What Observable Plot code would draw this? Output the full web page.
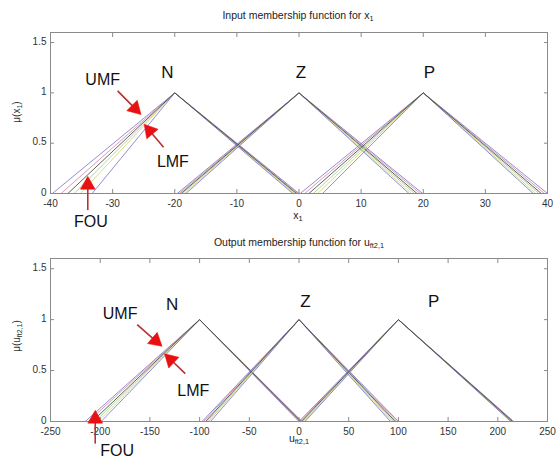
<!DOCTYPE html>
<html><head><meta charset="utf-8">
<script src="https://cdn.jsdelivr.net/npm/d3@7"></script>
<script src="https://cdn.jsdelivr.net/npm/@observablehq/plot@0.6"></script>
<style>
body{margin:0;background:#fff;font-family:"Liberation Sans",Arial,sans-serif;}
#wrap{position:relative;width:557px;height:464px;overflow:hidden;}
.panel{position:absolute;left:0;}
.lab{position:absolute;font-size:10.5px;color:#222;white-space:nowrap;transform:translate(-50%,-50%);line-height:1;}
.ylab{position:absolute;font-size:10px;color:#333;white-space:nowrap;transform:translate(-50%,-50%) rotate(-90deg);line-height:1;}
sub{font-size:70%;line-height:0;vertical-align:-0.35em;}
</style></head><body>
<div id="wrap"></div>
<script>
// ---- data ----
const lineColors = ["#6a6ac8", "#d07090", "#8cc88c", "#d6d674", "#6a6ac8", "#3c3c34"];
const lineOpacity = [0.75, 0.7, 0.7, 0.85, 0.75, 0.8];
const yTicks = [0, 0.5, 1, 1.5];

// Input MFs (x1) — 6 embedded lines per MF (outer UMF ... inner LMF, plus a dark one)
const topPeaks = [-20, 0, 20];
const topLeftFeet = [
  [-39.7, -38.3, -36.2, -35.2, -33.3, -37.2],
  [-19.6, -19.3, -18.8, -18.5, -18.2, -19.0],
  [0.2, 0.9, 2.3, 3.0, 3.8, 1.6]
];
const topRightFeet = [
  [0, -0.2, -0.6, -0.8, -1.0, -0.4],
  [19.9, 19.5, 18.6, 18.1, 17.7, 19.0],
  [40, 39.5, 38.6, 38.1, 37.7, 39.0]
];
const topXTicks = [-40, -30, -20, -10, 0, 10, 20, 30, 40];
const topLetters = ["N", "Z", "P"];
const topLetterX = [-21.2, 0.3, 21];
const topLetterY = [1.2, 1.2, 1.2];
const topNotes = ["UMF", "LMF", "FOU"];
const topNoteX = [-31.6, -20.3, -33.5];
const topNoteY = [1.13, 0.31, -0.28];
const topArrowX1 = [-29.2, -21.8, -34];
const topArrowY1 = [1.02, 0.46, -0.165];
const topArrowX2 = [-26.0, -24.4, -34];
const topArrowY2 = [0.82, 0.65, 0.12];

// Output MFs (u_ft2,1)
const botPeaks = [-100, 0, 100];
const botLeftFeet = [
  [-215, -212, -205, -202, -199, -208],
  [-97.5, -96, -92.5, -91, -89, -94],
  [0, 1.2, 3.6, 4.8, 6, 2.4]
];
const botRightFeet = [
  [3, 2.4, 1.2, 0.6, 0, 1.8],
  [100, 98.4, 95.2, 93.6, 92, 96.8],
  [216, 215.4, 214.2, 213.6, 213, 214.8]
];
const botXTicks = [-250, -200, -150, -100, -50, 0, 50, 100, 150, 200, 250];
const botLetters = ["N", "Z", "P"];
const botLetterX = [-127.5, 6.5, 135.6];
const botLetterY = [1.15, 1.18, 1.18];
const botNotes = ["UMF", "LMF", "FOU"];
const botNoteX = [-180, -106.4, -183];
const botNoteY = [1.06, 0.30, -0.29];
const botArrowX1 = [-162.8, -114.4, -205];
const botArrowY1 = [0.95, 0.47, -0.217];
const botArrowX2 = [-141.6, -131.6, -205];
const botArrowY2 = [0.77, 0.63, 0.06];

// ---- build ----
function panel(cfg) {
  const W = 557, ML = 50, MR = 10;
  const kx = (W - ML - MR) / (cfg.xDomain[1] - cfg.xDomain[0]);
  const ky = (cfg.height - cfg.mt - cfg.mb) / 1.6;
  const lines = [];
  cfg.peaks.forEach((p, i) => {
    cfg.left[i].forEach((l, j) => {
      const k = i + "-" + j, c = lineColors[j], o = lineOpacity[j];
      lines.push({k, c, o, x: l, y: 0}, {k, c, o, x: p, y: 1}, {k, c, o, x: cfg.right[i][j], y: 0});
    });
  });
  const letters = cfg.letters.map((t, i) => ({t, x: cfg.letterX[i], y: cfg.letterY[i]}));
  const notes = cfg.notes.map((t, i) => ({t, x: cfg.noteX[i], y: cfg.noteY[i]}));
  const arrows = cfg.ax1.map((x1, i) => {
    const x2 = cfg.ax2[i], y2 = cfg.ay2[i], y1 = cfg.ay1[i];
    const dxp = (x2 - x1) * kx, dyp = -(y2 - y1) * ky;
    const len = Math.hypot(dxp, dyp);
    const ang = Math.atan2(dxp, -dyp) * 180 / Math.PI;
    const f = (len - 5) / len, g = (len - 3.5) / len;
    return {x1, y1, x2, y2, sx: x1 + (x2 - x1) * f, sy: y1 + (y2 - y1) * f,
            hx: x1 + (x2 - x1) * g, hy: y1 + (y2 - y1) * g, ang};
  });
  const axStyle = {stroke: "#8a8a8a", label: null};
  const fmt = d => String(d);
  return Plot.plot({
    width: W, height: cfg.height,
    marginLeft: ML, marginRight: MR, marginTop: cfg.mt, marginBottom: cfg.mb,
    x: {domain: cfg.xDomain, label: null},
    y: {domain: [0, 1.6], label: null},
    color: {type: "identity"},
    style: {fontFamily: "'Liberation Sans', Arial, sans-serif", fontSize: "10px", color: "#333", background: "white", overflow: "visible"},
    marks: [
      Plot.line(lines, {x: "x", y: "y", z: "k", stroke: "c", strokeOpacity: "o", strokeWidth: 1}),
      Plot.frame({stroke: "#8a8a8a"}),
      Plot.axisX(cfg.xTicks, {anchor: "bottom", tickSize: 0, tickPadding: 6, tickFormat: fmt, ...axStyle}),
      Plot.axisX(cfg.xTicks, {anchor: "bottom", tickSize: 4, dy: -4, tickFormat: () => "", ...axStyle}),
      Plot.axisX(cfg.xTicks, {anchor: "top", tickSize: 4, dy: 4, tickFormat: () => "", ...axStyle}),
      Plot.axisY(yTicks, {anchor: "left", tickSize: 0, tickPadding: 4, dy: -1, tickFormat: fmt, ...axStyle}),
      Plot.axisY(yTicks, {anchor: "left", tickSize: 4, dx: 4, tickFormat: () => "", ...axStyle}),
      Plot.axisY(yTicks, {anchor: "right", tickSize: 4, dx: -4, tickFormat: () => "", ...axStyle}),
      Plot.text(letters, {x: "x", y: "y", text: "t", fontSize: 17, fill: "#111"}),
      Plot.text(notes, {x: "x", y: "y", text: "t", fontSize: 16, fill: "#111"}),
      Plot.link(arrows, {x1: "x1", y1: "y1", x2: "sx", y2: "sy", stroke: "#b83030", strokeWidth: 1.6}),
      Plot.dot(arrows, {x: "hx", y: "hy", symbol: "triangle", rotate: "ang", r: 5.5, fill: "#e81010", stroke: "#e81010", strokeWidth: 0.5})
    ]
  });
}

const wrap = document.getElementById("wrap");
const topChart = panel({
  height: 230, mt: 32, mb: 37, xDomain: [-40, 40], xTicks: topXTicks,
  peaks: topPeaks, left: topLeftFeet, right: topRightFeet,
  letters: topLetters, letterX: topLetterX, letterY: topLetterY,
  notes: topNotes, noteX: topNoteX, noteY: topNoteY,
  ax1: topArrowX1, ay1: topArrowY1, ax2: topArrowX2, ay2: topArrowY2
});
topChart.classList.add("panel"); topChart.style.top = "0px";
const botChart = panel({
  height: 234, mt: 28, mb: 43, xDomain: [-250, 250], xTicks: botXTicks,
  peaks: botPeaks, left: botLeftFeet, right: botRightFeet,
  letters: botLetters, letterX: botLetterX, letterY: botLetterY,
  notes: botNotes, noteX: botNoteX, noteY: botNoteY,
  ax1: botArrowX1, ay1: botArrowY1, ax2: botArrowX2, ay2: botArrowY2
});
botChart.classList.add("panel"); botChart.style.top = "230px";
wrap.appendChild(topChart);
wrap.appendChild(botChart);

function addLabel(cls, html, x, y) {
  const d = document.createElement("div");
  d.className = cls; d.innerHTML = html;
  d.style.left = x + "px"; d.style.top = y + "px";
  wrap.appendChild(d);
}
addLabel("lab", "Input membership function for x<sub>1</sub>", 298, 15);
addLabel("lab", "x<sub>1</sub>", 298, 215);
addLabel("ylab", "&mu;(x<sub>1</sub>)", 17, 112);
addLabel("lab", "Output membership function for u<sub>ft2,1</sub>", 299, 242);
addLabel("lab", "u<sub>ft2,1</sub>", 299, 438);
addLabel("ylab", "&mu;(u<sub>ft2,1</sub>)", 17, 336);
</script>
</body></html>
